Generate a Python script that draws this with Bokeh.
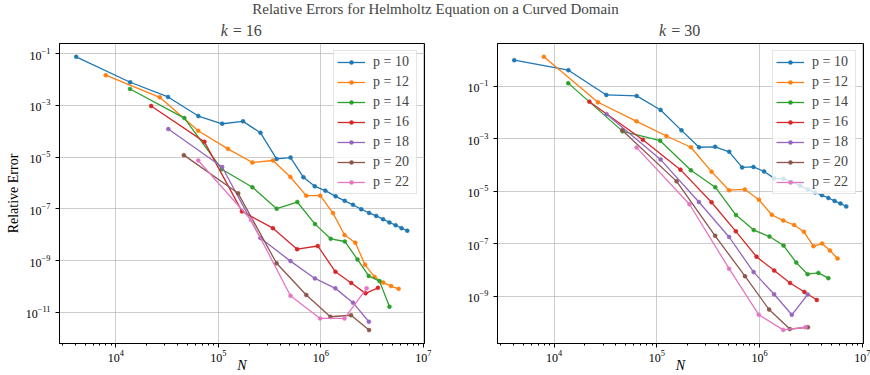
from bokeh.embed import file_html
from bokeh.layouts import column, row
from bokeh.models import FixedTicker, Label, Legend, LegendItem, LogTickFormatter, Range1d
from bokeh.plotting import figure
from bokeh.resources import INLINE

# Polynomial orders and their colours
orders = [10, 12, 14, 16, 18, 20, 22]
colors = ["#1f77b4", "#ff7f0e", "#2ca02c", "#d62728", "#9467bd", "#8c564b", "#e377c2"]

# Degrees of freedom N for each order (same meshes for both wavenumbers)
n_p10 = [4100, 13800, 32300, 63800, 109000, 174000, 258000, 370000, 507000, 677000, 873000,
         1108000, 1395000, 1712000, 2062000, 2483000, 2961000, 3472000, 4053000, 4676000,
         5378000, 6140000, 6985000]
n_p12 = [7970, 26800, 63600, 124000, 215000, 341000, 505000, 720000, 988000, 1315000, 1705000,
         2173000, 2703000, 3350000, 4067000, 4847000, 5748000]
n_p14 = [13750, 46600, 108000, 215000, 371000, 590000, 878000, 1249000, 1713000, 2280000,
         2935000, 3740000, 4680000]
n_p16 = [22100, 73200, 170000, 341000, 588000, 935000, 1390000, 1982000, 2733000, 3613000]
n_p18 = [32500, 109000, 257000, 506000, 876000, 1387000, 2062000, 2945000]
n_p20 = [46100, 156000, 370000, 722000, 1239000, 1972000, 2958000]
n_p22 = [63700, 208000, 506000, 985000, 1700000, 2800000]

# Relative errors, k = 16
err_k16_p10 = [7.45e-2, 7.78e-3, 2.10e-3, 3.85e-4, 1.94e-4, 2.40e-4, 8.67e-5, 8.5e-6, 9.6e-6,
               1.66e-6, 7.45e-7, 5.07e-7, 3.05e-7, 2.04e-7, 1.43e-7, 9.7e-8, 7.0e-8, 5.35e-8,
               3.99e-8, 3.0e-8, 2.33e-8, 1.80e-8, 1.43e-8]
err_k16_p12 = [1.46e-2, 2.04e-3, 1.04e-4, 2.08e-5, 6.18e-6, 7.38e-6, 1.71e-6, 3.25e-7, 3.25e-7,
               6.87e-8, 9.8e-9, 4.94e-9, 6.93e-10, 2.35e-10, 1.42e-10, 1.04e-10, 8.15e-11]
err_k16_p14 = [4.29e-3, 3.22e-4, 3.40e-6, 6.81e-7, 1.02e-7, 1.84e-7, 2.58e-8, 7.0e-9, 5.5e-9,
               1.12e-9, 2.58e-10, 1.62e-10, 1.66e-11]
err_k16_p16 = [9.4e-4, 3.88e-5, 8.0e-8, 1.80e-8, 2.77e-9, 3.68e-9, 3.72e-10, 1.38e-10, 5.45e-11,
               8.9e-11]
err_k16_p18 = [1.21e-4, 4.13e-6, 7.5e-9, 9.6e-10, 2.06e-10, 8.5e-11, 2.38e-11, 4.36e-12]
err_k16_p20 = [1.19e-5, 3.99e-7, 7.93e-10, 4.72e-11, 6.8e-12, 7.8e-12, 2.08e-12]
err_k16_p22 = [7.38e-6, 3.8e-8, 4.43e-11, 5.85e-12, 5.85e-12, 8.5e-11]

# Relative errors, k = 30
err_k30_p10 = [0.98, 0.408, 4.66e-2, 4.27e-2, 1.25e-2, 2.09e-3, 4.74e-4, 4.95e-4, 3.19e-4, 8.1e-5,
               8.45e-5, 5.7e-5, 3.1e-5, 2.97e-5, 2.28e-5, 1.64e-5, 1.18e-5, 9.08e-6, 7.1e-6,
               5.55e-6, 4.3e-6, 3.42e-6, 2.65e-6]
err_k30_p12 = [1.31, 2.45e-2, 4.61e-3, 1.27e-3, 4.74e-4, 5.6e-5, 1.10e-5, 1.18e-5, 4.78e-6,
               1.28e-6, 7.68e-7, 5.22e-7, 2.87e-7, 8.17e-8, 1.02e-7, 5.55e-8, 2.75e-8]
err_k30_p14 = [0.131, 1.91e-3, 8.4e-4, 6.28e-5, 1.43e-5, 1.24e-6, 3.33e-7, 1.90e-7, 8.6e-8,
               1.93e-8, 7.0e-9, 7.8e-9, 4.95e-9]
err_k30_p16 = [2.58e-2, 9.2e-4, 6.67e-5, 3.84e-6, 3.0e-7, 3.24e-8, 9.57e-9, 3.25e-9, 1.47e-9,
               7.3e-10]
err_k30_p18 = [8.53e-3, 1.61e-4, 3.91e-6, 1.82e-7, 8.4e-9, 1.20e-9, 1.99e-10, 1.18e-9]
err_k30_p20 = [2.11e-3, 2.39e-5, 2.02e-7, 5.85e-9, 3.16e-10, 5.7e-11, 6.67e-11]
err_k30_p22 = [4.61e-4, 3.22e-6, 1.13e-8, 1.99e-10, 5.3e-11, 6.67e-11]

n_values = [n_p10, n_p12, n_p14, n_p16, n_p18, n_p20, n_p22]
errors_k16 = [err_k16_p10, err_k16_p12, err_k16_p14, err_k16_p16, err_k16_p18, err_k16_p20, err_k16_p22]
errors_k30 = [err_k30_p10, err_k30_p12, err_k30_p14, err_k30_p16, err_k30_p18, err_k30_p20, err_k30_p22]

x_major = [1e4, 1e5, 1e6, 1e7]
x_minor = [m * 10.0 ** e for e in range(3, 7) for m in range(2, 10)]
y_ticks_k16 = [1e-1, 1e-3, 1e-5, 1e-7, 1e-9, 1e-11]
y_ticks_k30 = [1e-1, 1e-3, 1e-5, 1e-7, 1e-9]

SERIF = "Liberation Serif"
X_LO, X_HI = 3.45, 7.012


def make_panel(errors, y_lo, y_hi, y_ticks, frame_w, left, right, y_label):
    p = figure(frame_width=frame_w, frame_height=300, x_axis_type="log", y_axis_type="log",
               x_range=Range1d(10 ** X_LO, 10 ** X_HI), y_range=Range1d(10 ** y_lo, 10 ** y_hi),
               output_backend="svg", toolbar_location=None, title=None,
               min_border_left=left, min_border_right=right,
               min_border_top=1, min_border_bottom=32)
    p.outline_line_color = "black"
    p.outline_line_width = 1

    p.xaxis.ticker = FixedTicker(ticks=x_major, minor_ticks=x_minor)
    p.yaxis.ticker = FixedTicker(ticks=y_ticks, minor_ticks=[])
    for ax in (p.xaxis, p.yaxis):
        ax.formatter = LogTickFormatter()
        ax.axis_line_color = "black"
        ax.major_tick_in = 0
        ax.major_tick_out = 4
        ax.minor_tick_in = 0
        ax.minor_tick_out = 2
        ax.major_tick_line_color = "black"
        ax.minor_tick_line_color = "black"
        ax.major_label_text_font = SERIF
        ax.major_label_text_font_size = "12px"
        ax.major_label_text_color = "black"
        ax.axis_label_text_font = SERIF
        ax.axis_label_text_font_size = "14px"
        ax.axis_label_text_color = "black"
    p.xaxis.major_label_standoff = 2
    p.yaxis.major_label_standoff = 5

    p.xaxis.axis_label = "N"
    p.xaxis.axis_label_text_font_style = "italic"
    p.xaxis.axis_label_standoff = -7
    if y_label:
        p.yaxis.axis_label = "Relative Error"
        p.yaxis.axis_label_text_font_style = "normal"
        p.yaxis.axis_label_standoff = 2

    p.grid.grid_line_color = "#b0b0b0"
    p.grid.grid_line_width = 0.8
    p.grid.grid_line_alpha = 0.8

    items = []
    for order, color, n, err in zip(orders, colors, n_values, errors):
        r_line = p.line(n, err, line_color=color, line_width=1.3)
        r_pts = p.scatter(n, err, size=4, fill_color=color, line_color=color, line_width=0.5)
        items.append(LegendItem(label=f"p = {order}", renderers=[r_line, r_pts]))

    legend = Legend(items=items, location="top_right", margin=7, padding=3,
                    spacing=4, glyph_width=28, glyph_height=10, label_height=14,
                    label_width=40, label_standoff=8,
                    label_text_font=SERIF, label_text_font_size="14px",
                    border_line_color="#cccccc", border_line_width=1,
                    background_fill_color="white", background_fill_alpha=0.8)
    p.add_layout(legend)
    return p


p16 = make_panel(errors_k16, -12.2, -0.612, y_ticks_k16, 365, 59, 16, True)
p30 = make_panel(errors_k30, -10.794, 0.626, y_ticks_k30, 366, 57, 7, False)

# Header strip: figure title and the two panel titles, positioned in pixels
header = figure(width=870, height=42, x_range=Range1d(0, 870), y_range=Range1d(42, 0),
                output_backend="svg", toolbar_location=None, title=None,
                x_axis_location=None, y_axis_location=None, min_border=0)
header.outline_line_color = None
header.grid.visible = False
header.add_layout(Label(x=435, y=8.5, text="Relative Errors for Helmholtz Equation on a Curved Domain",
                        text_align="center", text_baseline="middle",
                        text_font=SERIF, text_font_size="15px"))
for centre, k in ((241.3, 16), (679.7, 30)):
    header.add_layout(Label(x=centre - 14, y=30, text="k", text_align="right",
                            text_baseline="middle", text_font=SERIF,
                            text_font_style="italic", text_font_size="16px"))
    header.add_layout(Label(x=centre - 9, y=30, text=f"= {k}", text_align="left",
                            text_baseline="middle", text_font=SERIF, text_font_size="16px"))

layout = column(header, row(p16, p30))
open("out.html", "w").write(file_html(layout, INLINE))
